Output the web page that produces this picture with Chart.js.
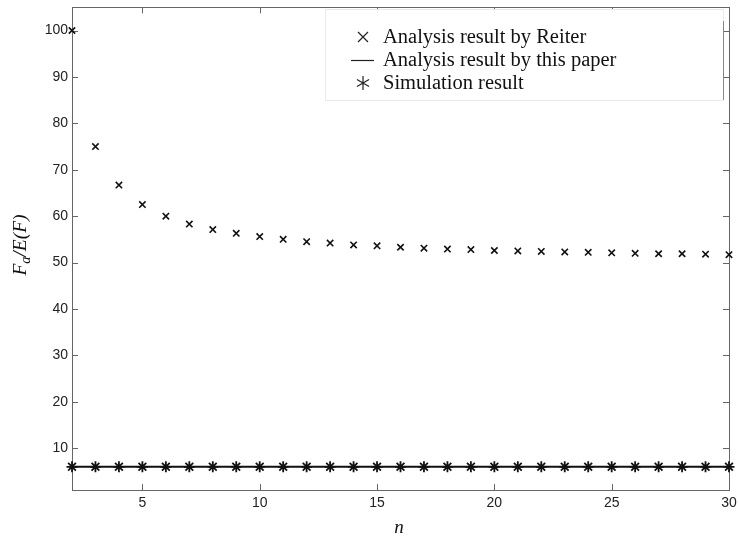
<!DOCTYPE html>
<html>
<head>
<meta charset="utf-8">
<script src="https://cdn.jsdelivr.net/npm/chart.js@4.4.0/dist/chart.umd.min.js"></script>
<style>
  html, body { margin: 0; padding: 0; background: #fff; }
  #wrap { width: 738px; height: 540px; }
</style>
</head>
<body>
<div id="wrap"><canvas id="chart" width="738" height="540"></canvas></div>
<script>
// data
var nValues = [2, 3, 4, 5, 6, 7, 8, 9, 10, 11, 12, 13, 14, 15, 16, 17, 18, 19, 20, 21, 22, 23, 24, 25, 26, 27, 28, 29, 30];
var reiterValues = [100, 75, 66.7, 62.5, 60, 58.3, 57.1, 56.3, 55.6, 55, 54.5, 54.2, 53.8, 53.6, 53.3, 53.1, 52.9, 52.8, 52.6, 52.5, 52.4, 52.3, 52.2, 52.1, 52, 51.9, 51.9, 51.8, 51.7];
var paperValues = [6, 6, 6, 6, 6, 6, 6, 6, 6, 6, 6, 6, 6, 6, 6, 6, 6, 6, 6, 6, 6, 6, 6, 6, 6, 6, 6, 6, 6];
var simulationValues = [6, 6, 6, 6, 6, 6, 6, 6, 6, 6, 6, 6, 6, 6, 6, 6, 6, 6, 6, 6, 6, 6, 6, 6, 6, 6, 6, 6, 6];
var xTicks = [5, 10, 15, 20, 25, 30];
var yTicks = [10, 20, 30, 40, 50, 60, 70, 80, 90, 100];
var legendLabels = ['Analysis result by Reiter', 'Analysis result by this paper', 'Simulation result'];

function toPoints(vals) {
  return nValues.map(function (n, i) { return { x: n, y: vals[i] }; });
}

var axisColor = '#666';
var serif = '"Liberation Serif", "Times New Roman", serif';

// frame, inward ticks, legend and axis titles
var framePlugin = {
  id: 'frame',
  beforeDatasetsDraw: function (chart) {
    var ctx = chart.ctx, a = chart.chartArea;
    var xs = chart.scales.x, ys = chart.scales.y;
    ctx.save();
    ctx.strokeStyle = axisColor;
    ctx.lineWidth = 1;
    ctx.strokeRect(Math.round(a.left) + 0.5, Math.round(a.top) + 0.5, Math.round(a.right - a.left), Math.round(a.bottom - a.top));
    var len = 6;
    ctx.beginPath();
    xTicks.forEach(function (v) {
      var px = Math.round(xs.getPixelForValue(v)) + 0.5;
      ctx.moveTo(px, a.bottom); ctx.lineTo(px, a.bottom - len);
      ctx.moveTo(px, a.top); ctx.lineTo(px, a.top + len);
    });
    yTicks.forEach(function (v) {
      var py = Math.round(ys.getPixelForValue(v)) + 0.5;
      ctx.moveTo(a.left, py); ctx.lineTo(a.left + len, py);
      ctx.moveTo(a.right, py); ctx.lineTo(a.right - len, py);
    });
    ctx.stroke();
    ctx.restore();
  },
  afterDatasetsDraw: function (chart) {
    var ctx = chart.ctx;
    ctx.save();
    // legend box
    var bx = 325, by = 9, bw = 398, bh = 91;
    ctx.fillStyle = '#fff';
    ctx.fillRect(bx, by, bw, bh);
    ctx.strokeStyle = '#ebebeb';
    ctx.lineWidth = 1;
    ctx.strokeRect(bx + 0.5, by + 0.5, bw, bh);
    ctx.strokeStyle = '#888';
    ctx.beginPath();
    ctx.moveTo(bx + bw + 0.5, by + 12); ctx.lineTo(bx + bw + 0.5, by + bh);
    ctx.stroke();

    var mx = 363, rows = [37, 60, 83];
    ctx.strokeStyle = '#222';
    ctx.lineWidth = 1.2;
    // x marker
    ctx.beginPath();
    ctx.moveTo(mx - 5, rows[0] - 5); ctx.lineTo(mx + 5, rows[0] + 5);
    ctx.moveTo(mx + 5, rows[0] - 5); ctx.lineTo(mx - 5, rows[0] + 5);
    ctx.stroke();
    // line marker
    ctx.beginPath();
    ctx.moveTo(mx - 12, rows[1] + 0.5); ctx.lineTo(mx + 11, rows[1] + 0.5);
    ctx.stroke();
    // asterisk marker
    ctx.beginPath();
    for (var k = 0; k < 3; k++) {
      var ang = Math.PI / 2 + k * Math.PI / 3;
      ctx.moveTo(mx + 7 * Math.cos(ang), rows[2] + 7 * Math.sin(ang));
      ctx.lineTo(mx - 7 * Math.cos(ang), rows[2] - 7 * Math.sin(ang));
    }
    ctx.stroke();

    ctx.fillStyle = '#111';
    ctx.font = '20.5px ' + serif;
    ctx.textBaseline = 'middle';
    ctx.textAlign = 'left';
    legendLabels.forEach(function (t, i) { ctx.fillText(t, 383, rows[i] + 1); });

    // x title
    ctx.font = 'italic 19px ' + serif;
    ctx.textAlign = 'center';
    ctx.fillText('n', 399, 528);

    // y title with subscript
    ctx.translate(21, 245);
    ctx.rotate(-Math.PI / 2);
    var big = 'italic 19.5px ' + serif, small = 'italic 14px ' + serif;
    ctx.font = big; var wF = ctx.measureText('F').width;
    ctx.font = small; var wa = ctx.measureText('a').width;
    ctx.font = big; var wRest = ctx.measureText('/E(F)').width;
    var x0 = -(wF + wa + wRest) / 2;
    ctx.textAlign = 'left';
    ctx.font = big; ctx.fillText('F', x0, 0);
    ctx.font = small; ctx.fillText('a', x0 + wF, 5);
    ctx.font = big; ctx.fillText('/E(F)', x0 + wF + wa, 0);
    ctx.restore();
  }
};

var data = {
  datasets: [{
    label: legendLabels[0],
    data: toPoints(reiterValues),
    showLine: false,
    pointStyle: 'crossRot',
    pointRadius: 4.5,
    pointBorderWidth: 1.6,
    borderColor: '#111',
    backgroundColor: '#111',
    clip: false
  }, {
    label: legendLabels[1],
    data: toPoints(paperValues),
    showLine: true,
    pointRadius: 0,
    borderWidth: 2,
    borderColor: '#111',
    backgroundColor: '#111'
  }, {
    label: legendLabels[2],
    data: toPoints(simulationValues),
    showLine: false,
    pointStyle: 'star',
    pointRadius: 5.5,
    pointBorderWidth: 1.8,
    borderColor: '#111',
    backgroundColor: '#111',
    clip: false
  }]
};

var tickFont = { family: '"Liberation Sans", Arial, sans-serif', size: 14 };

var config = {
  type: 'scatter',
  data: data,
  options: {
    responsive: false,
    animation: false,
    layout: { padding: { left: 0, top: 6, right: 9, bottom: 0 } },
    plugins: { legend: { display: false }, tooltip: { enabled: false } },
    scales: {
      x: {
        type: 'linear',
        min: 2,
        max: 30,
        grid: { display: false, drawTicks: false },
        border: { display: false },
        afterBuildTicks: function (s) { s.ticks = xTicks.map(function (v) { return { value: v }; }); },
        afterFit: function (s) { s.height = 50; s.paddingLeft = 0; s.paddingRight = 0; },
        ticks: { font: tickFont, color: '#222', padding: 5, maxRotation: 0 }
      },
      y: {
        type: 'linear',
        min: 1,
        max: 105,
        grid: { display: false, drawTicks: false },
        border: { display: false },
        afterBuildTicks: function (s) { s.ticks = yTicks.map(function (v) { return { value: v }; }); },
        afterFit: function (s) { s.width = 72; s.paddingTop = 0; s.paddingBottom = 0; },
        ticks: { font: tickFont, color: '#222', padding: 4 }
      }
    }
  },
  plugins: [framePlugin]
};

new Chart(document.getElementById('chart').getContext('2d'), config);
</script>
</body>
</html>
